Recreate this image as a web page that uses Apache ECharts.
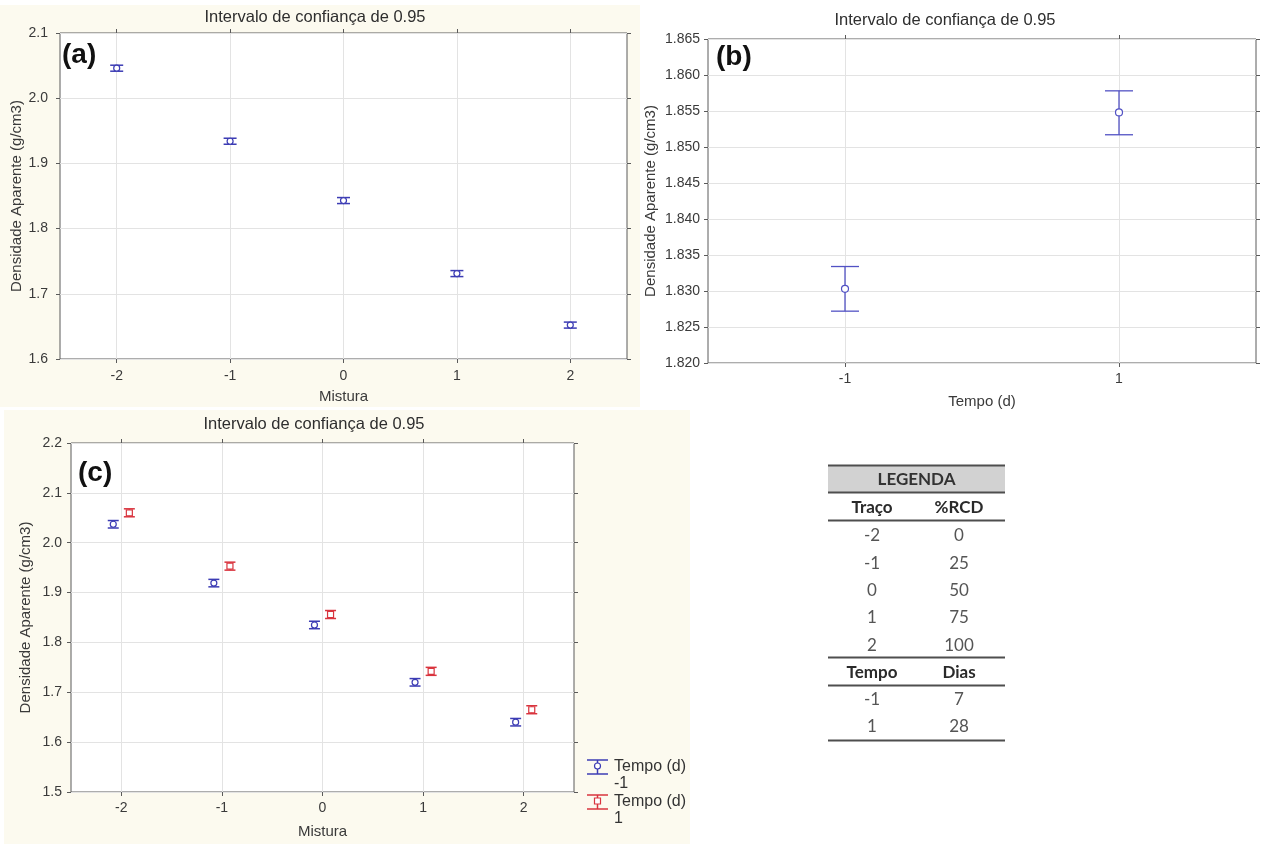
<!DOCTYPE html>
<html>
<head>
<meta charset="utf-8">
<script src="https://cdn.jsdelivr.net/npm/echarts@6/dist/echarts.min.js"></script>
<style>
  html, body { margin: 0; padding: 0; background: #ffffff; }
  #chart { width: 1273px; height: 844px; }
</style>
</head>
<body>
<div id="chart"></div>
<script>
// ---- Data ---------------------------------------------------------------
// (a) apparent density by mixture level, with 95% CI half-widths
const mixtureLevels = [-2, -1, 0, 1, 2];
const densityByMixture = [2.046, 1.934, 1.843, 1.731, 1.652];
const ciByMixture = [0.0046, 0.0046, 0.0046, 0.0046, 0.0046];

// (b) apparent density by curing time, with CI bounds
const timeLevels = [-1, 1];
const densityByTime = [1.8303, 1.8548];
const ciLowByTime = [1.8272, 1.8517];
const ciHighByTime = [1.8334, 1.8578];

// (c) mixture x time interaction
const densityTimeMinus1 = [2.037, 1.919, 1.835, 1.720, 1.640];
const densityTimePlus1 = [2.060, 1.953, 1.856, 1.742, 1.665];
const ciTimeMinus1 = [0.0075, 0.0075, 0.0075, 0.0075, 0.0075];
const ciTimePlus1 = [0.0080, 0.0080, 0.0080, 0.0080, 0.0080];

// key table
const tableTitle = 'LEGENDA';
const tracoHeader = ['Traço', '%RCD'];
const tracoLevels = ['-2', '-1', '0', '1', '2'];
const rcdPercent = ['0', '25', '50', '75', '100'];
const tempoHeader = ['Tempo', 'Dias'];
const tempoLevels = ['-1', '1'];
const tempoDays = ['7', '28'];

const panelTitle = 'Intervalo de confiança de 0.95';
const yName = 'Densidade Aparente (g/cm3)';
const legendNames = ['Tempo (d)\n-1', 'Tempo (d)\n1'];

// ---- Styles -------------------------------------------------------------
const FONT = "'Liberation Sans', Arial, sans-serif";
const TABLE_FONT = "Lato, 'Open Sans', sans-serif";
const BLUE = '#3c3cb4';
const BLUE_B = '#5252c4';
const RED = '#d9343e';
const FRAME = '#5a5a5a';
const GRIDLINE = '#e3e3e3';
const TEXT = '#3a3a3a';
const CREAM = '#fcfaef';
const GROUP_OFFSET = 0.08;

const chart = echarts.init(document.getElementById('chart'), null, { renderer: 'canvas' });

function errorBars(axisIdx, data, color, halfCap, lw) {
  return {
    type: 'custom',
    xAxisIndex: axisIdx,
    yAxisIndex: axisIdx,
    data: data,
    silent: true,
    z: 3,
    encode: { x: 0, y: [1, 2] },
    renderItem: function (params, api) {
      const x = api.value(0);
      const lo = api.coord([x, api.value(1)]);
      const hi = api.coord([x, api.value(2)]);
      const style = { stroke: color, lineWidth: lw, fill: null };
      return {
        type: 'group',
        children: [
          { type: 'line', shape: { x1: lo[0], y1: hi[1], x2: lo[0], y2: lo[1] }, style: style },
          { type: 'line', shape: { x1: lo[0] - halfCap, y1: hi[1], x2: lo[0] + halfCap, y2: hi[1] }, style: style },
          { type: 'line', shape: { x1: lo[0] - halfCap, y1: lo[1], x2: lo[0] + halfCap, y2: lo[1] }, style: style }
        ]
      };
    }
  };
}

function markers(axisIdx, data, color, symbol, size, bw) {
  return {
    type: 'scatter',
    xAxisIndex: axisIdx,
    yAxisIndex: axisIdx,
    data: data,
    symbol: symbol,
    symbolSize: size,
    silent: true,
    z: 4,
    itemStyle: { color: '#ffffff', borderColor: color, borderWidth: bw, opacity: 1 }
  };
}

function xAxes(gridIndex, min, max, ticks, name, nameGap, labelMargin) {
  return [
    {
      type: 'value', gridIndex: gridIndex, position: 'bottom', min: min, max: max,
      name: name, nameLocation: 'middle', nameGap: nameGap,
      nameTextStyle: { fontFamily: FONT, fontSize: 15, color: TEXT },
      axisLine: { show: false, onZero: false },
      axisTick: { show: true, inside: false, length: 4, customValues: ticks, lineStyle: { color: FRAME } },
      axisLabel: { customValues: ticks, margin: labelMargin, fontFamily: FONT, fontSize: 14, color: TEXT,
                   formatter: function (v) { return String(v); } },
      splitLine: { show: true, lineStyle: { color: GRIDLINE, width: 1 } }
    },
    {
      type: 'value', gridIndex: gridIndex, position: 'top', min: min, max: max,
      axisLine: { show: false, onZero: false },
      axisTick: { show: true, inside: false, length: 4, customValues: ticks, lineStyle: { color: FRAME } },
      axisLabel: { show: false },
      splitLine: { show: false }
    }
  ];
}

function yAxes(gridIndex, min, max, interval, digits, nameGap, labelMargin) {
  return [
    {
      type: 'value', gridIndex: gridIndex, position: 'left', min: min, max: max, interval: interval,
      name: yName, nameLocation: 'middle', nameGap: nameGap,
      nameTextStyle: { fontFamily: FONT, fontSize: 15, color: TEXT },
      axisLine: { show: false, onZero: false },
      axisTick: { show: true, inside: false, length: 4, lineStyle: { color: FRAME } },
      axisLabel: { margin: labelMargin, fontFamily: FONT, fontSize: 14, color: TEXT,
                   formatter: function (v) { return v.toFixed(digits); } },
      splitLine: { show: true, lineStyle: { color: GRIDLINE, width: 1 } }
    },
    {
      type: 'value', gridIndex: gridIndex, position: 'right', min: min, max: max, interval: interval,
      axisLine: { show: false, onZero: false },
      axisTick: { show: true, inside: false, length: 4, lineStyle: { color: FRAME } },
      axisLabel: { show: false },
      splitLine: { show: false }
    }
  ];
}

// series data built from the arrays above
const aPoints = mixtureLevels.map((x, i) => [x, densityByMixture[i]]);
const aBars = mixtureLevels.map((x, i) => [x, densityByMixture[i] - ciByMixture[i], densityByMixture[i] + ciByMixture[i]]);
const bPoints = timeLevels.map((x, i) => [x, densityByTime[i]]);
const bBars = timeLevels.map((x, i) => [x, ciLowByTime[i], ciHighByTime[i]]);
const cPointsM = mixtureLevels.map((x, i) => [x - GROUP_OFFSET, densityTimeMinus1[i]]);
const cBarsM = mixtureLevels.map((x, i) => [x - GROUP_OFFSET, densityTimeMinus1[i] - ciTimeMinus1[i], densityTimeMinus1[i] + ciTimeMinus1[i]]);
const cPointsP = mixtureLevels.map((x, i) => [x + GROUP_OFFSET, densityTimePlus1[i]]);
const cBarsP = mixtureLevels.map((x, i) => [x + GROUP_OFFSET, densityTimePlus1[i] - ciTimePlus1[i], densityTimePlus1[i] + ciTimePlus1[i]]);

// ---- Key table (graphic) -----------------------------------------------
const T_LEFT = 828, T_RIGHT = 1005, COL1 = 872, COL2 = 959;
const tableEls = [];
function hLine(y) {
  tableEls.push({ type: 'line', shape: { x1: T_LEFT, y1: y, x2: T_RIGHT, y2: y },
                  style: { stroke: '#4e4e4e', lineWidth: 2 } });
}
function cellText(txt, x, y, bold, color) {
  tableEls.push({ type: 'text', x: x, y: y,
    style: { text: txt, fontFamily: TABLE_FONT, fontSize: 17, fontWeight: bold ? 'bold' : 'normal',
             fill: color, align: 'center', verticalAlign: 'middle' } });
}
tableEls.push({ type: 'rect', shape: { x: T_LEFT, y: 466, width: T_RIGHT - T_LEFT, height: 26 },
                style: { fill: '#d2d2d2' } });
hLine(465.5);
cellText(tableTitle, (T_LEFT + T_RIGHT) / 2, 480, true, '#333333');
hLine(492.5);
cellText(tracoHeader[0], COL1, 508, true, '#2a2a2a');
cellText(tracoHeader[1], COL2, 508, true, '#2a2a2a');
hLine(520.5);
tracoLevels.forEach((t, i) => {
  const y = 536 + i * 27.3;
  cellText(t, COL1, y, false, '#555555');
  cellText(rcdPercent[i], COL2, y, false, '#555555');
});
hLine(657.5);
cellText(tempoHeader[0], COL1, 673, true, '#2a2a2a');
cellText(tempoHeader[1], COL2, 673, true, '#2a2a2a');
hLine(685.5);
tempoLevels.forEach((t, i) => {
  const y = 700 + i * 27;
  cellText(t, COL1, y, false, '#555555');
  cellText(tempoDays[i], COL2, y, false, '#555555');
});
hLine(740.5);

// ---- Legend of panel (c) (graphic) --------------------------------------
function legendItem(cy, color, symbol, label) {
  const s = { stroke: color, lineWidth: 1.5, fill: null };
  const cx = 597.5, half = 10.5, top = cy - 7, bot = cy + 7;
  const els = [
    { type: 'line', shape: { x1: cx - half, y1: top, x2: cx + half, y2: top }, style: s },
    { type: 'line', shape: { x1: cx - half, y1: bot, x2: cx + half, y2: bot }, style: s },
    { type: 'line', shape: { x1: cx, y1: top, x2: cx, y2: bot }, style: s }
  ];
  if (symbol === 'circle') {
    els.push({ type: 'circle', shape: { cx: cx, cy: cy - 1, r: 3 }, style: { fill: '#fff', stroke: color, lineWidth: 1.2 } });
  } else {
    els.push({ type: 'rect', shape: { x: cx - 3, y: cy - 4, width: 6, height: 6 }, style: { fill: '#fff', stroke: color, lineWidth: 1.2 } });
  }
  els.push({ type: 'text', x: 614, y: cy - 9,
    style: { text: label, fontFamily: FONT, fontSize: 16, lineHeight: 17, fill: '#333333', align: 'left', verticalAlign: 'top' } });
  return els;
}

const titleStyle = { fontFamily: FONT, fontSize: 16.5, fontWeight: 'normal', color: '#2e2e2e' };

const option = {
  animation: false,
  backgroundColor: '#ffffff',
  textStyle: { fontFamily: FONT },
  title: [
    { text: panelTitle, left: 315, top: 9, textAlign: 'center', padding: 0, textStyle: titleStyle },
    { text: panelTitle, left: 945, top: 12, textAlign: 'center', padding: 0, textStyle: titleStyle },
    { text: panelTitle, left: 314, top: 416, textAlign: 'center', padding: 0, textStyle: titleStyle }
  ],
  grid: [
    { left: 60, top: 33, width: 567, height: 326, show: true, backgroundColor: '#ffffff', borderColor: FRAME, borderWidth: 1, containLabel: false },
    { left: 708, top: 39, width: 548, height: 324, show: true, backgroundColor: '#ffffff', borderColor: FRAME, borderWidth: 1, containLabel: false },
    { left: 71, top: 443, width: 503, height: 349, show: true, backgroundColor: '#ffffff', borderColor: FRAME, borderWidth: 1, containLabel: false }
  ],
  xAxis: [].concat(
    xAxes(0, -2.5, 2.5, mixtureLevels, 'Mistura', 30, 10),
    xAxes(1, -2, 2, timeLevels, 'Tempo (d)', 31, 9),
    xAxes(2, -2.5, 2.5, mixtureLevels, 'Mistura', 32, 9)
  ),
  yAxis: [].concat(
    yAxes(0, 1.6, 2.1, 0.1, 1, 35, 12),
    yAxes(1, 1.820, 1.865, 0.005, 3, 50, 8),
    yAxes(2, 1.5, 2.2, 0.1, 1, 38, 9)
  ),
  series: [
    errorBars(0, aBars, BLUE, 6.5, 1.5),
    markers(0, aPoints, BLUE, 'circle', 6, 1.2),
    errorBars(2, bBars, BLUE_B, 14, 1.3),
    markers(2, bPoints, BLUE_B, 'circle', 7, 1.2),
    errorBars(4, cBarsM, BLUE, 5.5, 1.5),
    markers(4, cPointsM, BLUE, 'circle', 6, 1.2),
    errorBars(4, cBarsP, RED, 5.5, 1.5),
    markers(4, cPointsP, RED, 'rect', 6, 1.2)
  ],
  graphic: [
    // panel backgrounds
    { type: 'rect', z: -10, shape: { x: 0, y: 5, width: 640, height: 402 }, style: { fill: CREAM } },
    { type: 'rect', z: -10, shape: { x: 4, y: 410, width: 686, height: 434 }, style: { fill: CREAM } },
    // panel tags
    { type: 'text', x: 62, y: 55, style: { text: '(a)', fontFamily: FONT, fontSize: 28, fontWeight: 'bold', fill: '#111', verticalAlign: 'middle' } },
    { type: 'text', x: 716, y: 57, style: { text: '(b)', fontFamily: FONT, fontSize: 28, fontWeight: 'bold', fill: '#111', verticalAlign: 'middle' } },
    { type: 'text', x: 78, y: 473, style: { text: '(c)', fontFamily: FONT, fontSize: 28, fontWeight: 'bold', fill: '#111', verticalAlign: 'middle' } },
    { type: 'group', children: tableEls },
    { type: 'group', children: legendItem(767, BLUE, 'circle', legendNames[0]) },
    { type: 'group', children: legendItem(802, RED, 'rect', legendNames[1]) }
  ]
};

chart.setOption(option);
</script>
</body>
</html>
